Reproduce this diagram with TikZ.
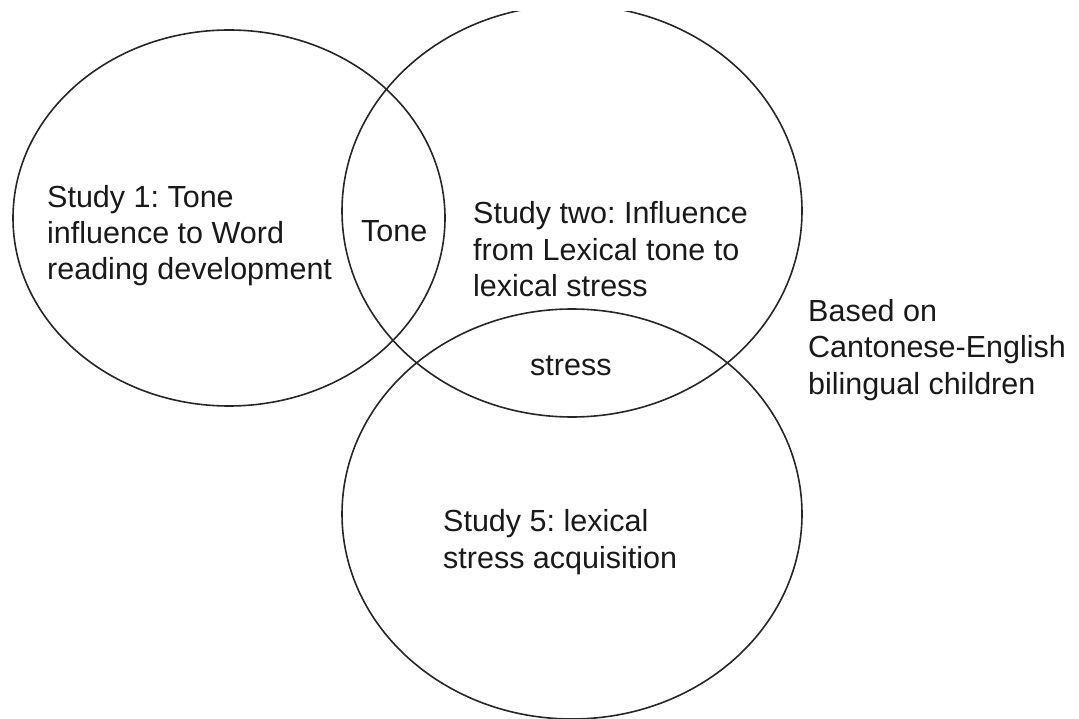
\documentclass[tikz,border=0pt]{standalone}
\usepackage{fontspec}
\setmainfont{Liberation Sans}
\usetikzlibrary{shapes.geometric}
\begin{document}
\frenchspacing
\begin{tikzpicture}[x=1pt,y=-1pt,
  ring/.style={draw=black!85,line width=1.6pt,ellipse,inner sep=0pt},
  lbl/.style={anchor=base west,align=left,inner sep=0pt,font=\fontsize{30.5}{36.5}\selectfont,text=black!90}]
\useasboundingbox (0,0) rectangle (1079,719);
\begin{scope}
\clip (0,12) rectangle (1079,719.5);
\node[ring,minimum width=432pt,minimum height=376pt] (e1) at (229,218) {};
\node[ring,minimum width=460pt,minimum height=412pt] (e2) at (572,211) {};
\node[ring,minimum width=460pt,minimum height=410pt] (e3) at (572,514) {};
\end{scope}
\node[lbl] (t1) at (47,280) {Study 1: Tone\\influence to Word\\reading development};
\node[lbl] (tone) at (361,242) {Tone};
\node[lbl] (t2) at (473,297) {Study two: Influence\\from Lexical tone to\\lexical stress};
\node[lbl] (stress) at (530,375) {stress};
\node[lbl] (t5) at (443,568) {Study 5: lexical\\stress acquisition};
\node[lbl] (note) at (808,394) {Based on\\Cantonese-English\\bilingual children};
\end{tikzpicture}
\end{document}
